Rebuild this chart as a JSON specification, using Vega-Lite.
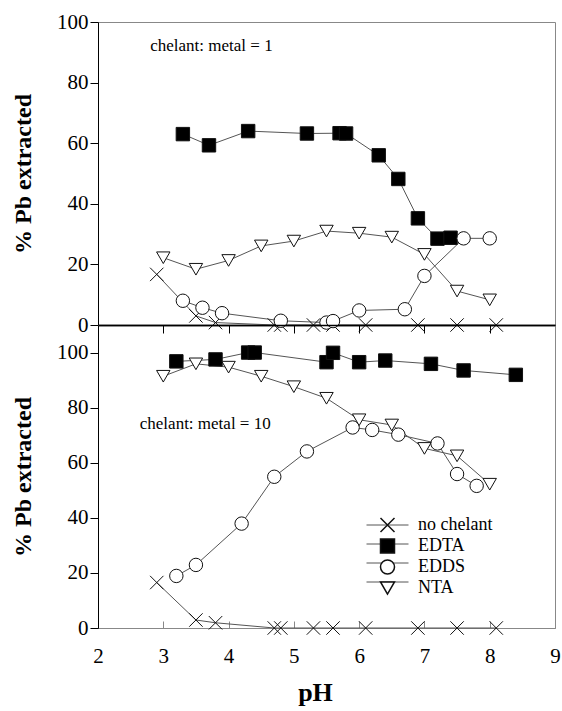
{
  "$schema": "https://vega.github.io/schema/vega-lite/v6.json",
  "padding": {"left": 11, "top": 10, "right": 0, "bottom": 5},
  "config": {
    "font": "Liberation Serif",
    "view": {"stroke": "#888", "strokeWidth": 1},
    "style": {"guide-label": {"font": "Liberation Serif", "fill": "black"}, "guide-title": {"font": "Liberation Serif", "fill": "black"}},
    "axis": {"grid": false, "labelFont": "Liberation Serif", "labelFontSize": 21, "labelColor": "black", "titleFont": "Liberation Serif", "titleFontWeight": "bold", "titleColor": "black", "domainColor": "black", "tickColor": "black", "labelFlush": false, "labelOverlap": false},
    "concat": {"spacing": 0}
  },
  "bounds": "flush",
  "datasets": {
    "r1": [
      {"series": "no chelant", "pH": 2.9, "pct": 16.7},
      {"series": "no chelant", "pH": 3.5, "pct": 3.0},
      {"series": "no chelant", "pH": 3.8, "pct": 0.8},
      {"series": "no chelant", "pH": 4.7, "pct": 0},
      {"series": "no chelant", "pH": 4.8, "pct": 0},
      {"series": "no chelant", "pH": 5.3, "pct": 0},
      {"series": "no chelant", "pH": 5.6, "pct": 0},
      {"series": "no chelant", "pH": 6.1, "pct": 0},
      {"series": "no chelant", "pH": 6.9, "pct": 0},
      {"series": "no chelant", "pH": 7.5, "pct": 0},
      {"series": "no chelant", "pH": 8.1, "pct": 0},
      {"series": "EDTA", "pH": 3.3, "pct": 63.0},
      {"series": "EDTA", "pH": 3.7, "pct": 59.3},
      {"series": "EDTA", "pH": 4.3, "pct": 64.0},
      {"series": "EDTA", "pH": 5.2, "pct": 63.2},
      {"series": "EDTA", "pH": 5.7, "pct": 63.3},
      {"series": "EDTA", "pH": 5.8, "pct": 63.2},
      {"series": "EDTA", "pH": 6.3, "pct": 56.0},
      {"series": "EDTA", "pH": 6.6, "pct": 48.2},
      {"series": "EDTA", "pH": 6.9, "pct": 35.2},
      {"series": "EDTA", "pH": 7.2, "pct": 28.5},
      {"series": "EDTA", "pH": 7.4, "pct": 28.8},
      {"series": "EDDS", "pH": 3.3, "pct": 8.0},
      {"series": "EDDS", "pH": 3.6, "pct": 5.7},
      {"series": "EDDS", "pH": 3.9, "pct": 3.9},
      {"series": "EDDS", "pH": 4.8, "pct": 1.4},
      {"series": "EDDS", "pH": 5.5, "pct": 0.8},
      {"series": "EDDS", "pH": 5.6, "pct": 1.3},
      {"series": "EDDS", "pH": 6.0, "pct": 4.8},
      {"series": "EDDS", "pH": 6.7, "pct": 5.2},
      {"series": "EDDS", "pH": 7.0, "pct": 16.2},
      {"series": "EDDS", "pH": 7.6, "pct": 28.6},
      {"series": "EDDS", "pH": 8.0, "pct": 28.6},
      {"series": "NTA", "pH": 3.0, "pct": 22.2},
      {"series": "NTA", "pH": 3.5, "pct": 18.4},
      {"series": "NTA", "pH": 4.0, "pct": 21.3},
      {"series": "NTA", "pH": 4.5, "pct": 26.1},
      {"series": "NTA", "pH": 5.0, "pct": 27.7},
      {"series": "NTA", "pH": 5.5, "pct": 31.0},
      {"series": "NTA", "pH": 6.0, "pct": 30.3},
      {"series": "NTA", "pH": 6.5, "pct": 29.0},
      {"series": "NTA", "pH": 7.0, "pct": 23.3},
      {"series": "NTA", "pH": 7.5, "pct": 11.2},
      {"series": "NTA", "pH": 8.0, "pct": 8.3}
    ],
    "r10": [
      {"series": "no chelant", "pH": 2.9, "pct": 16.5},
      {"series": "no chelant", "pH": 3.5, "pct": 2.9},
      {"series": "no chelant", "pH": 3.8, "pct": 1.9},
      {"series": "no chelant", "pH": 4.7, "pct": 0},
      {"series": "no chelant", "pH": 4.8, "pct": 0},
      {"series": "no chelant", "pH": 5.3, "pct": 0},
      {"series": "no chelant", "pH": 5.6, "pct": 0},
      {"series": "no chelant", "pH": 6.1, "pct": 0},
      {"series": "no chelant", "pH": 6.9, "pct": 0},
      {"series": "no chelant", "pH": 7.5, "pct": 0},
      {"series": "no chelant", "pH": 8.1, "pct": 0},
      {"series": "EDTA", "pH": 3.2, "pct": 96.8},
      {"series": "EDTA", "pH": 3.8, "pct": 97.5},
      {"series": "EDTA", "pH": 4.3, "pct": 100.0},
      {"series": "EDTA", "pH": 4.4, "pct": 100.0},
      {"series": "EDTA", "pH": 5.5, "pct": 96.5},
      {"series": "EDTA", "pH": 5.6, "pct": 99.9},
      {"series": "EDTA", "pH": 6.0, "pct": 96.5},
      {"series": "EDTA", "pH": 6.4, "pct": 97.1},
      {"series": "EDTA", "pH": 7.1, "pct": 95.9},
      {"series": "EDTA", "pH": 7.6, "pct": 93.5},
      {"series": "EDTA", "pH": 8.4, "pct": 91.9},
      {"series": "EDDS", "pH": 3.2, "pct": 18.9},
      {"series": "EDDS", "pH": 3.5, "pct": 22.9},
      {"series": "EDDS", "pH": 4.2, "pct": 37.9},
      {"series": "EDDS", "pH": 4.7, "pct": 54.9},
      {"series": "EDDS", "pH": 5.2, "pct": 64.1},
      {"series": "EDDS", "pH": 5.9, "pct": 72.8},
      {"series": "EDDS", "pH": 6.2, "pct": 71.9},
      {"series": "EDDS", "pH": 6.6, "pct": 70.2},
      {"series": "EDDS", "pH": 7.2, "pct": 67.0},
      {"series": "EDDS", "pH": 7.5, "pct": 55.9},
      {"series": "EDDS", "pH": 7.8, "pct": 51.6},
      {"series": "NTA", "pH": 3.0, "pct": 91.4},
      {"series": "NTA", "pH": 3.5, "pct": 95.9},
      {"series": "NTA", "pH": 4.0, "pct": 94.7},
      {"series": "NTA", "pH": 4.5, "pct": 91.4},
      {"series": "NTA", "pH": 5.0, "pct": 87.6},
      {"series": "NTA", "pH": 5.5, "pct": 83.4},
      {"series": "NTA", "pH": 6.0, "pct": 75.6},
      {"series": "NTA", "pH": 6.5, "pct": 73.7},
      {"series": "NTA", "pH": 7.0, "pct": 65.2},
      {"series": "NTA", "pH": 7.5, "pct": 62.5},
      {"series": "NTA", "pH": 8.0, "pct": 52.2}
    ]
  },
  "resolve": {"scale": {"x": "independent", "y": "independent"}, "legend": {"shape": "independent", "fill": "independent", "color": "independent"}},
  "vconcat": [
    {
      "width": 457,
      "height": 303,
      "layer": [
        {
          "data": {"name": "r1"},
          "mark": {"type": "line", "strokeWidth": 1},
          "encoding": {
            "x": {"field": "pH", "type": "quantitative", "scale": {"domain": [2, 9], "nice": false, "zero": false}, "axis": {"title": null, "labels": false, "tickSize": 8, "values": [2, 3, 4, 5, 6, 7, 8, 9], "domainWidth": 1.5, "domainColor": "black", "tickColor": "black"}},
            "y": {"field": "pct", "type": "quantitative", "scale": {"domain": [0, 100], "nice": false}, "axis": {"title": "% Pb extracted", "titleFont": "Liberation Serif", "titleFontWeight": "bold", "titleFontSize": 24, "labelFont": "Liberation Serif", "labelFontSize": 21, "values": [0, 20, 40, 60, 80, 100], "tickSize": 8, "labelPadding": 2, "titlePadding": 21}},
            "color": {"field": "series", "type": "nominal", "scale": {"domain": ["no chelant", "EDTA", "EDDS", "NTA", "line"], "range": ["#555", "#555", "#555", "#555", "#555"]}, "legend": null}
          }
        },
        {
          "data": {"name": "r1"},
          "mark": {"type": "point", "stroke": "#111", "strokeWidth": 1, "opacity": 1, "size": 180},
          "encoding": {
            "x": {"field": "pH", "type": "quantitative"},
            "y": {"field": "pct", "type": "quantitative"},
            "shape": {"field": "series", "type": "nominal", "scale": {"domain": ["no chelant", "EDTA", "EDDS", "NTA"], "range": ["M-1,-1L1,1M-1,1L1,-1", "square", "circle", "triangle-down"]}, "legend": null},
            "fill": {"field": "series", "type": "nominal", "scale": {"domain": ["no chelant", "EDTA", "EDDS", "NTA"], "range": ["white", "black", "white", "white"]}, "legend": null}
          }
        },
        {
          "data": {"values": [{"pH": 2.8, "pct": 92, "label": "chelant: metal = 1"}]},
          "mark": {"type": "text", "align": "left", "baseline": "middle", "fontSize": 17, "font": "Liberation Serif", "color": "black"},
          "encoding": {
            "x": {"field": "pH", "type": "quantitative"},
            "y": {"field": "pct", "type": "quantitative"},
            "text": {"field": "label"}
          }
        }
      ]
    },
    {
      "width": 457,
      "height": 303,
      "resolve": {"axis": {"x": "independent"}},
      "layer": [
        {
          "data": {"name": "r10"},
          "mark": {"type": "line", "strokeWidth": 1},
          "encoding": {
            "x": {"field": "pH", "type": "quantitative", "scale": {"domain": [2, 9], "nice": false, "zero": false}, "axis": {"title": "pH", "titleFont": "Liberation Serif", "titleFontWeight": "bold", "titleFontSize": 26, "labelFont": "Liberation Serif", "labelFontSize": 21, "titleX": 217, "values": [2, 3, 4, 5, 6, 7, 8, 9], "format": "d", "tickSize": -7, "labelPadding": 24, "titlePadding": 13, "domainColor": "#888", "tickColor": "#888"}},
            "y": {"field": "pct", "type": "quantitative", "scale": {"domain": [0, 110], "nice": false}, "axis": {"title": "% Pb extracted", "titleFont": "Liberation Serif", "titleFontWeight": "bold", "titleFontSize": 24, "labelFont": "Liberation Serif", "labelFontSize": 21, "values": [0, 20, 40, 60, 80, 100], "tickSize": 8, "labelPadding": 2, "titlePadding": 21}},
            "color": {"field": "series", "type": "nominal", "scale": {"domain": ["no chelant", "EDTA", "EDDS", "NTA", "line"], "range": ["#555", "#555", "#555", "#555", "#555"]},
              "legend": {"title": null, "orient": "none", "legendX": 267, "legendY": 191, "padding": 0, "zindex": 1, "values": ["no chelant", "EDTA", "EDDS", "NTA"], "labelFont": "Liberation Serif", "labelFontSize": 18, "labelExpr": "' '", "labelOffset": 110, "symbolType": "M-3,0L3,0", "symbolSize": 196, "symbolStrokeWidth": 1, "symbolOffset": 13.5, "rowPadding": 1}}
          }
        },
        {
          "data": {"name": "r10"},
          "mark": {"type": "point", "stroke": "#111", "strokeWidth": 1, "opacity": 1, "size": 180},
          "encoding": {
            "x": {"field": "pH", "type": "quantitative", "axis": {"orient": "top", "title": null, "labels": false, "ticks": false, "domainColor": "black", "domainWidth": 1.5}},
            "y": {"field": "pct", "type": "quantitative"},
            "shape": {"field": "series", "type": "nominal", "scale": {"domain": ["no chelant", "EDTA", "EDDS", "NTA"], "range": ["M-1,-1L1,1M-1,1L1,-1", "square", "circle", "triangle-down"]},
              "legend": {"title": null, "orient": "none", "legendX": 267, "legendY": 191, "padding": 0, "zindex": 2, "labelFont": "Liberation Serif", "labelFontSize": 18, "labelColor": "black", "symbolSize": 196, "symbolOffset": 13.5, "labelOffset": 21.5, "rowPadding": 1}},
            "fill": {"field": "series", "type": "nominal", "scale": {"domain": ["no chelant", "EDTA", "EDDS", "NTA"], "range": ["white", "black", "white", "white"]}, "legend": null}
          }
        },
        {
          "data": {"values": [{"pH": 2.64, "pct": 74.2, "label": "chelant: metal = 10"}]},
          "mark": {"type": "text", "align": "left", "baseline": "middle", "fontSize": 17, "font": "Liberation Serif", "color": "black"},
          "encoding": {
            "x": {"field": "pH", "type": "quantitative", "axis": null},
            "y": {"field": "pct", "type": "quantitative"},
            "text": {"field": "label"}
          }
        }
      ]
    }
  ]
}
